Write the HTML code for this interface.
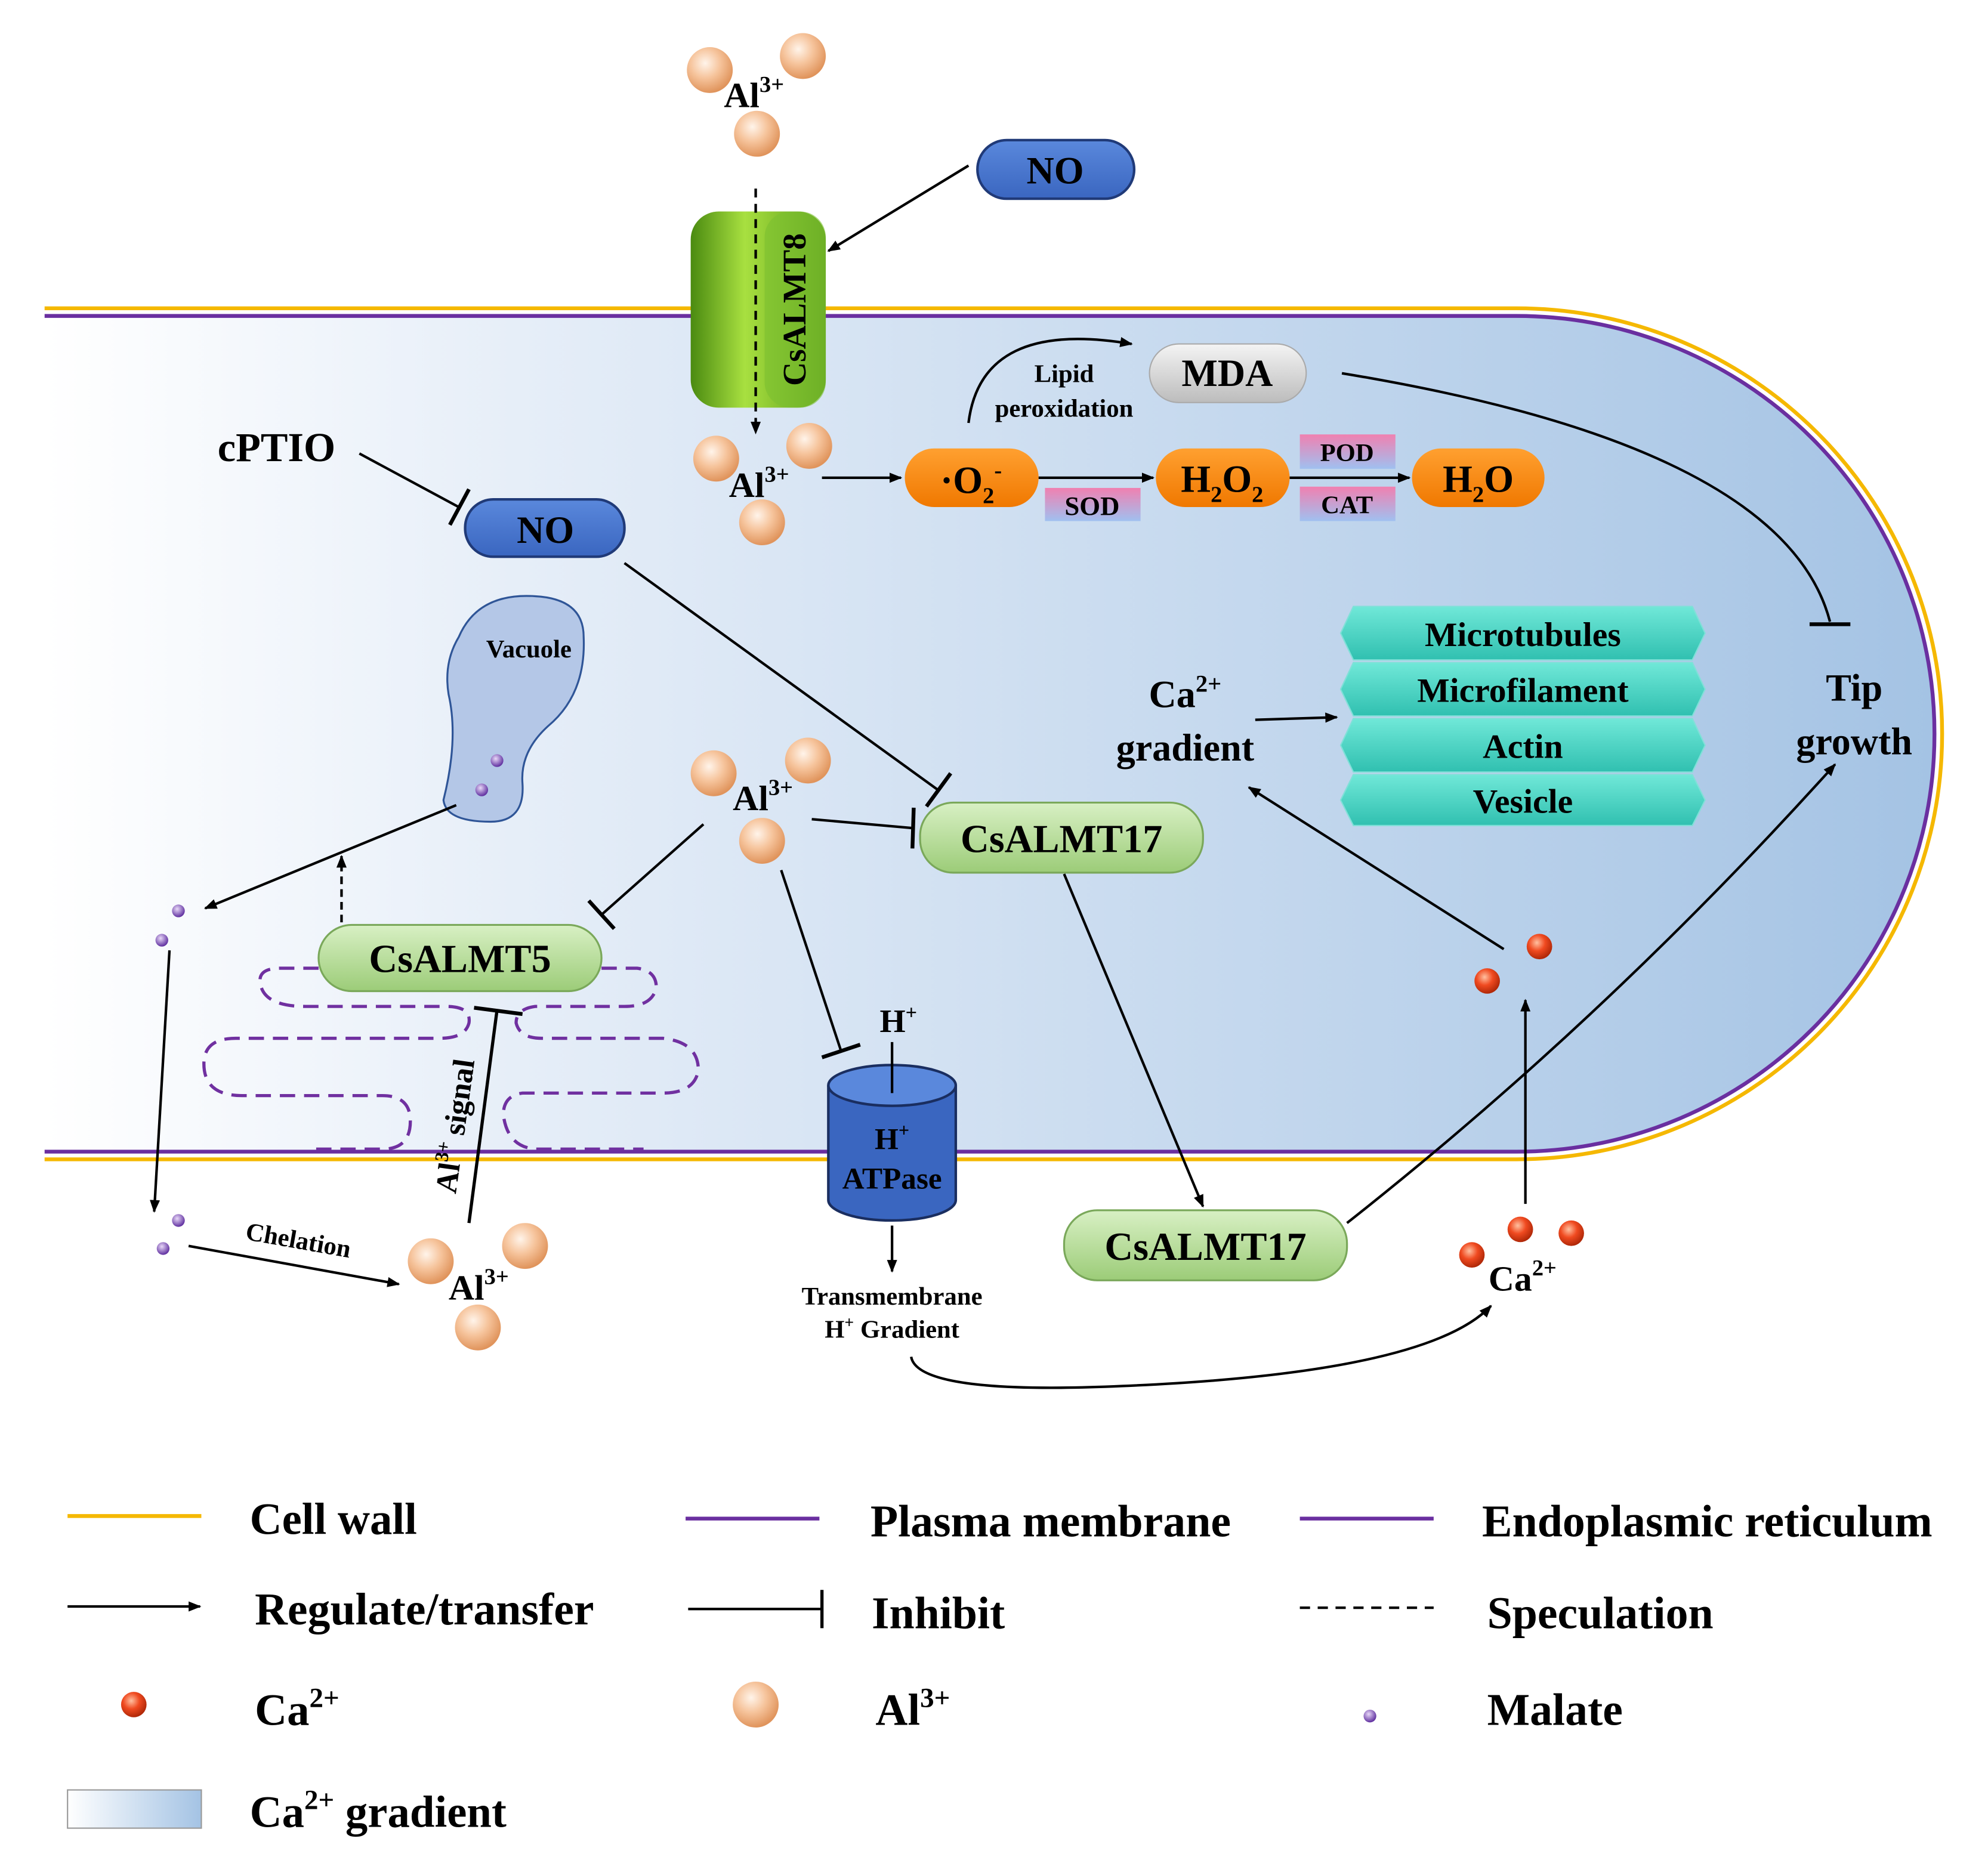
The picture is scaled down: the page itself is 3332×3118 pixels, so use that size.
<!DOCTYPE html>
<html><head><meta charset="utf-8"><style>
html,body{margin:0;padding:0;background:#fff}
svg{display:block}
text{font-family:"Liberation Serif",serif;font-weight:bold;fill:#000}
</style></head><body>
<svg width="3332" height="3118" viewBox="0 0 1560 1460" preserveAspectRatio="none" xmlns="http://www.w3.org/2000/svg">
<defs>
<linearGradient id="cell" x1="0" x2="1" y1="0" y2="0">
<stop offset="0" stop-color="#ffffff"/><stop offset="0.25" stop-color="#e6eef8"/><stop offset="1" stop-color="#a4c3e4"/></linearGradient>
<radialGradient id="al" cx="0.4" cy="0.35" r="0.65"><stop offset="0" stop-color="#fff4ea"/><stop offset="0.5" stop-color="#f6c49c"/><stop offset="1" stop-color="#e0945c"/></radialGradient>
<radialGradient id="ca" cx="0.4" cy="0.35" r="0.65"><stop offset="0" stop-color="#ffc0a0"/><stop offset="0.5" stop-color="#f04a20"/><stop offset="1" stop-color="#b02808"/></radialGradient>
<radialGradient id="mal" cx="0.4" cy="0.35" r="0.65"><stop offset="0" stop-color="#e8d8f8"/><stop offset="1" stop-color="#6030a0"/></radialGradient>
<linearGradient id="grn" x1="0" x2="0" y1="0" y2="1"><stop offset="0" stop-color="#d8f0c4"/><stop offset="1" stop-color="#9ccc78"/></linearGradient>
<linearGradient id="org" x1="0" x2="0" y1="0" y2="1"><stop offset="0" stop-color="#ffa030"/><stop offset="1" stop-color="#f07800"/></linearGradient>
<linearGradient id="blu" x1="0" x2="0" y1="0" y2="1"><stop offset="0" stop-color="#5a88dc"/><stop offset="1" stop-color="#3a66c0"/></linearGradient>
<linearGradient id="gry" x1="0" x2="0" y1="0" y2="1"><stop offset="0" stop-color="#f4f4f4"/><stop offset="1" stop-color="#bcbcbc"/></linearGradient>
<linearGradient id="enz" x1="0" x2="0" y1="0" y2="1"><stop offset="0" stop-color="#f080b0"/><stop offset="1" stop-color="#a0c0f0"/></linearGradient>
<linearGradient id="teal" x1="0" x2="0" y1="0" y2="1"><stop offset="0" stop-color="#70e8d8"/><stop offset="1" stop-color="#30c0b0"/></linearGradient>
<linearGradient id="ch" x1="0" x2="1"><stop offset="0" stop-color="#4a8a10"/><stop offset="0.4" stop-color="#a8e040"/><stop offset="1" stop-color="#5a9a18"/></linearGradient>
<linearGradient id="leg" x1="0" x2="1"><stop offset="0" stop-color="#fff"/><stop offset="1" stop-color="#a4c3e4"/></linearGradient>
<marker id="ar" markerWidth="10" markerHeight="10" refX="9" refY="5" orient="auto" markerUnits="userSpaceOnUse"><path d="M0,1 L10,5 L0,9 z" fill="#000"/></marker>
</defs>

<path d="M35,248 H1190 A328,328 0 0 1 1190,904 H35 Z" fill="url(#cell)"/>
<path d="M35,242 H1190 A334,334 0 0 1 1190,910 H35" fill="none" stroke="#f5b800" stroke-width="3"/>
<path d="M35,248 H1190 A328,328 0 0 1 1190,904 H35" fill="none" stroke="#6a2fa0" stroke-width="3"/>

<g fill="none" stroke="#7030a0" stroke-width="2.5" stroke-dasharray="12,7">
<path d="M250,760 H220 Q200,760 205,775 Q210,790 240,790 H350 Q370,790 368,803 Q365,815 345,815 H185 Q160,815 160,835 Q160,860 190,860 H300 Q322,860 322,880 Q322,902 300,902 H245"/>
<path d="M472,760 H500 Q515,762 515,775 Q512,790 490,790 H420 Q405,792 405,803 Q408,815 425,815 H520 Q548,818 548,840 Q545,858 520,858 H410 Q395,860 395,875 Q398,900 420,902 H505"/>
</g>

<circle cx="557" cy="55" r="18" fill="url(#al)"/><circle cx="630" cy="44" r="18" fill="url(#al)"/><circle cx="594" cy="105" r="18" fill="url(#al)"/>
<text x="568" y="84" font-size="28">Al<tspan font-size="18" dy="-12">3+</tspan></text>

<rect x="767" y="110" width="123" height="46" rx="23" fill="url(#blu)" stroke="#203a78" stroke-width="2"/>
<text x="828" y="144" font-size="30" text-anchor="middle">NO</text>
<line x1="760" y1="130" x2="650" y2="197" stroke="#000" stroke-width="2" marker-end="url(#ar)"/>

<rect x="542" y="166" width="106" height="154" rx="22" fill="url(#ch)"/>
<rect x="600" y="166" width="48" height="154" rx="20" fill="#7cc030" opacity="0.6"/>
<line x1="593" y1="148" x2="593" y2="340" stroke="#000" stroke-width="2" stroke-dasharray="7,5" marker-end="url(#ar)"/>
<text transform="translate(632,243) rotate(-90)" font-size="26" text-anchor="middle">CsALMT8</text>

<circle cx="562" cy="360" r="18" fill="url(#al)"/><circle cx="635" cy="350" r="18" fill="url(#al)"/><circle cx="598" cy="410" r="18" fill="url(#al)"/>
<text x="572" y="390" font-size="28">Al<tspan font-size="18" dy="-12">3+</tspan></text>
<line x1="645" y1="375" x2="707" y2="375" stroke="#000" stroke-width="2" marker-end="url(#ar)"/>

<rect x="710" y="352" width="105" height="46" rx="23" fill="url(#org)"/>
<text x="762" y="387" font-size="30" text-anchor="middle">·O<tspan font-size="18" dy="8">2</tspan><tspan font-size="18" dy="-20">-</tspan></text>
<line x1="815" y1="375" x2="905" y2="375" stroke="#000" stroke-width="2" marker-end="url(#ar)"/>
<rect x="820" y="383" width="75" height="26" fill="url(#enz)"/><text x="857" y="404" font-size="21" text-anchor="middle">SOD</text>
<rect x="907" y="352" width="105" height="46" rx="23" fill="url(#org)"/>
<text x="959" y="386" font-size="30" text-anchor="middle">H<tspan font-size="18" dy="8">2</tspan><tspan dy="-8">O</tspan><tspan font-size="18" dy="8">2</tspan></text>
<rect x="1020" y="341" width="75" height="27" fill="url(#enz)"/><text x="1057" y="362" font-size="20" text-anchor="middle">POD</text>
<rect x="1020" y="382" width="75" height="27" fill="url(#enz)"/><text x="1057" y="403" font-size="20" text-anchor="middle">CAT</text>
<line x1="1012" y1="375" x2="1106" y2="375" stroke="#000" stroke-width="2" marker-end="url(#ar)"/>
<rect x="1108" y="352" width="104" height="46" rx="23" fill="url(#org)"/>
<text x="1160" y="386" font-size="30" text-anchor="middle">H<tspan font-size="18" dy="8">2</tspan><tspan dy="-8">O</tspan></text>

<path d="M760,332 Q770,250 888,270" fill="none" stroke="#000" stroke-width="2" marker-end="url(#ar)"/>
<text x="835" y="300" font-size="20" text-anchor="middle">Lipid</text>
<text x="835" y="327" font-size="20" text-anchor="middle">peroxidation</text>
<rect x="902" y="270" width="123" height="46" rx="23" fill="url(#gry)" stroke="#aaa"/>
<text x="963" y="303" font-size="30" text-anchor="middle">MDA</text>
<path d="M1053,293 Q1400,350 1436,488" fill="none" stroke="#000" stroke-width="2"/>
<line x1="1420" y1="490" x2="1452" y2="490" stroke="#000" stroke-width="3"/>
<text x="1455" y="550" font-size="30" text-anchor="middle">Tip</text>
<text x="1455" y="592" font-size="30" text-anchor="middle">growth</text>

<text x="217" y="362" font-size="32" text-anchor="middle">cPTIO</text>
<line x1="282" y1="356" x2="360" y2="398" stroke="#000" stroke-width="2"/>
<line x1="368" y1="384" x2="353" y2="412" stroke="#000" stroke-width="3"/>
<rect x="365" y="392" width="125" height="45" rx="22" fill="url(#blu)" stroke="#203a78" stroke-width="2"/>
<text x="428" y="426" font-size="30" text-anchor="middle">NO</text>
<line x1="490" y1="442" x2="736" y2="620" stroke="#000" stroke-width="2"/>
<line x1="746" y1="607" x2="727" y2="633" stroke="#000" stroke-width="3"/>

<path d="M360,500 Q375,465 420,468 Q458,470 458,500 Q460,545 430,570 Q408,590 410,615 Q412,645 385,645 Q350,645 348,628 Q360,580 352,545 Q348,520 360,500 Z" fill="#b4c7e7" stroke="#2f5597" stroke-width="1.5"/>
<text x="415" y="516" font-size="20" text-anchor="middle">Vacuole</text>
<circle cx="390" cy="597" r="5" fill="url(#mal)"/><circle cx="378" cy="620" r="5" fill="url(#mal)"/>

<circle cx="560" cy="607" r="18" fill="url(#al)"/><circle cx="634" cy="597" r="18" fill="url(#al)"/><circle cx="598" cy="660" r="18" fill="url(#al)"/>
<text x="575" y="636" font-size="28">Al<tspan font-size="18" dy="-12">3+</tspan></text>
<line x1="637" y1="643" x2="716" y2="650" stroke="#000" stroke-width="2"/>
<line x1="717" y1="634" x2="716" y2="666" stroke="#000" stroke-width="3"/>
<line x1="552" y1="647" x2="472" y2="718" stroke="#000" stroke-width="2"/>
<line x1="462" y1="707" x2="482" y2="729" stroke="#000" stroke-width="3"/>
<line x1="613" y1="683" x2="660" y2="825" stroke="#000" stroke-width="2"/>
<line x1="645" y1="830" x2="675" y2="820" stroke="#000" stroke-width="3"/>

<rect x="722" y="630" width="222" height="55" rx="26" fill="url(#grn)" stroke="#7aa85a" stroke-width="1.5"/>
<text x="833" y="669" font-size="31" text-anchor="middle">CsALMT17</text>
<line x1="835" y1="686" x2="944" y2="947" stroke="#000" stroke-width="2" marker-end="url(#ar)"/>

<rect x="250" y="726" width="222" height="52" rx="26" fill="url(#grn)" stroke="#7aa85a" stroke-width="1.5"/>
<text x="361" y="763" font-size="31" text-anchor="middle">CsALMT5</text>
<line x1="268" y1="724" x2="268" y2="672" stroke="#000" stroke-width="2" stroke-dasharray="6,4" marker-end="url(#ar)"/>
<line x1="358" y1="632" x2="161" y2="713" stroke="#000" stroke-width="2" marker-end="url(#ar)"/>
<circle cx="140" cy="715" r="5" fill="url(#mal)"/><circle cx="127" cy="738" r="5" fill="url(#mal)"/>
<line x1="133" y1="746" x2="121" y2="951" stroke="#000" stroke-width="2" marker-end="url(#ar)"/>

<line x1="368" y1="960" x2="390" y2="793" stroke="#000" stroke-width="2.5"/>
<line x1="372" y1="791" x2="410" y2="796" stroke="#000" stroke-width="3"/>
<text transform="translate(365,885) rotate(-82)" font-size="24" text-anchor="middle">Al<tspan font-size="15" dy="-10">3+</tspan><tspan dy="10"> signal</tspan></text>

<circle cx="140" cy="958" r="5" fill="url(#mal)"/><circle cx="128" cy="980" r="5" fill="url(#mal)"/>
<line x1="148" y1="978" x2="313" y2="1008" stroke="#000" stroke-width="2" marker-end="url(#ar)"/>
<text transform="translate(233,980) rotate(10)" font-size="20" text-anchor="middle">Chelation</text>
<circle cx="338" cy="990" r="18" fill="url(#al)"/><circle cx="412" cy="978" r="18" fill="url(#al)"/><circle cx="375" cy="1042" r="18" fill="url(#al)"/>
<text x="352" y="1020" font-size="28">Al<tspan font-size="18" dy="-12">3+</tspan></text>

<text x="705" y="810" font-size="26" text-anchor="middle">H<tspan font-size="16" dy="-10">+</tspan></text>
<path d="M650,852 V942 A50,16 0 0 0 750,942 V852" fill="#3a66c0" stroke="#1a2e60" stroke-width="2"/>
<ellipse cx="700" cy="852" rx="50" ry="16" fill="#5a88dc" stroke="#1a2e60" stroke-width="2"/>
<line x1="700" y1="818" x2="700" y2="858" stroke="#000" stroke-width="2"/>
<text x="700" y="902" font-size="24" text-anchor="middle">H<tspan font-size="15" dy="-10">+</tspan></text>
<text x="700" y="933" font-size="24" text-anchor="middle">ATPase</text>
<line x1="700" y1="962" x2="700" y2="998" stroke="#000" stroke-width="2" marker-end="url(#ar)"/>
<text x="700" y="1024" font-size="20" text-anchor="middle">Transmembrane</text>
<text x="700" y="1050" font-size="20" text-anchor="middle">H<tspan font-size="13" dy="-8">+</tspan><tspan dy="8"> Gradient</tspan></text>
<path d="M715,1065 Q720,1095 880,1088 Q1120,1078 1170,1025" fill="none" stroke="#000" stroke-width="2" marker-end="url(#ar)"/>

<rect x="835" y="950" width="222" height="55" rx="26" fill="url(#grn)" stroke="#7aa85a" stroke-width="1.5"/>
<text x="946" y="989" font-size="31" text-anchor="middle">CsALMT17</text>
<path d="M1057,960 Q1260,800 1440,600" fill="none" stroke="#000" stroke-width="2" marker-end="url(#ar)"/>

<circle cx="1155" cy="985" r="10" fill="url(#ca)"/><circle cx="1193" cy="965" r="10" fill="url(#ca)"/><circle cx="1233" cy="968" r="10" fill="url(#ca)"/>
<text x="1168" y="1013" font-size="28">Ca<tspan font-size="18" dy="-12">2+</tspan></text>
<line x1="1197" y1="945" x2="1197" y2="785" stroke="#000" stroke-width="2" marker-end="url(#ar)"/>
<circle cx="1167" cy="770" r="10" fill="url(#ca)"/><circle cx="1208" cy="743" r="10" fill="url(#ca)"/>
<line x1="1180" y1="745" x2="980" y2="618" stroke="#000" stroke-width="2" marker-end="url(#ar)"/>
<text x="930" y="555" font-size="30" text-anchor="middle">Ca<tspan font-size="19" dy="-12">2+</tspan></text>
<text x="930" y="597" font-size="30" text-anchor="middle">gradient</text>
<line x1="985" y1="565" x2="1049" y2="563" stroke="#000" stroke-width="2" marker-end="url(#ar)"/>

<g fill="url(#teal)" stroke="#80e0d8" stroke-width="1">
<path d="M1062,476 H1328 L1338,497 L1328,518 H1062 L1052,497 Z"/>
<path d="M1062,520 H1328 L1338,541 L1328,562 H1062 L1052,541 Z"/>
<path d="M1062,564 H1328 L1338,585 L1328,606 H1062 L1052,585 Z"/>
<path d="M1062,608 H1328 L1338,628 L1328,648 H1062 L1052,628 Z"/>
</g>
<text x="1195" y="507" font-size="27" text-anchor="middle">Microtubules</text>
<text x="1195" y="551" font-size="27" text-anchor="middle">Microfilament</text>
<text x="1195" y="595" font-size="27" text-anchor="middle">Actin</text>
<text x="1195" y="638" font-size="27" text-anchor="middle">Vesicle</text>

<line x1="53" y1="1190" x2="158" y2="1190" stroke="#f5b800" stroke-width="3"/>
<text x="196" y="1204" font-size="35">Cell wall</text>
<line x1="538" y1="1192" x2="643" y2="1192" stroke="#6a2fa0" stroke-width="3"/>
<text x="683" y="1206" font-size="35.5">Plasma membrane</text>
<line x1="1020" y1="1192" x2="1125" y2="1192" stroke="#6a2fa0" stroke-width="3"/>
<text x="1163" y="1206" font-size="35.5">Endoplasmic reticulum</text>

<line x1="53" y1="1261" x2="157" y2="1261" stroke="#000" stroke-width="2" marker-end="url(#ar)"/>
<text x="200" y="1275" font-size="35.5">Regulate/transfer</text>
<line x1="540" y1="1263" x2="645" y2="1263" stroke="#000" stroke-width="2"/>
<line x1="645" y1="1248" x2="645" y2="1278" stroke="#000" stroke-width="2.5"/>
<text x="684" y="1278" font-size="35.5">Inhibit</text>
<line x1="1020" y1="1262" x2="1125" y2="1262" stroke="#000" stroke-width="2" stroke-dasharray="8,6"/>
<text x="1167" y="1278" font-size="35.5">Speculation</text>

<circle cx="105" cy="1338" r="10" fill="url(#ca)"/>
<text x="200" y="1354" font-size="35">Ca<tspan font-size="22" dy="-14">2+</tspan></text>
<circle cx="593" cy="1338" r="18" fill="url(#al)"/>
<text x="687" y="1354" font-size="35">Al<tspan font-size="22" dy="-14">3+</tspan></text>
<circle cx="1075" cy="1347" r="5" fill="url(#mal)"/>
<text x="1167" y="1354" font-size="35.5">Malate</text>

<rect x="53" y="1405" width="105" height="30" fill="url(#leg)" stroke="#999" stroke-width="1"/>
<text x="196" y="1434" font-size="35">Ca<tspan font-size="22" dy="-14">2+</tspan><tspan dy="14"> gradient</tspan></text>
</svg>
</body></html>
